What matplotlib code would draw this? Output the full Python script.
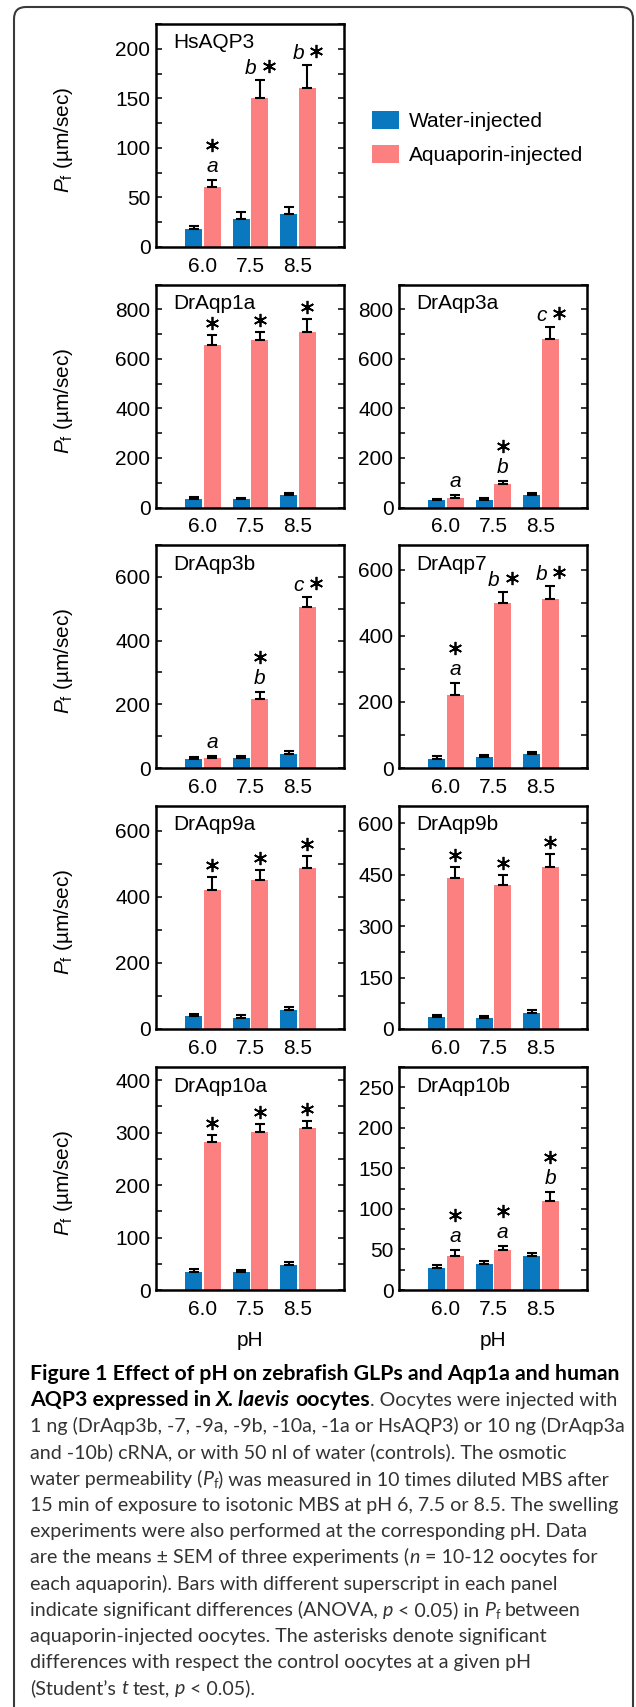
import matplotlib
matplotlib.use('Agg')
import matplotlib.pyplot as plt
import numpy as np
from matplotlib.patches import Patch, FancyBboxPatch
from matplotlib.ticker import MultipleLocator
from matplotlib.transforms import offset_copy, IdentityTransform

# ---- data (Pf in um/sec, mean and SEM) ----
PH = ['6.0', '7.5', '8.5']

hsaqp3_water = [18, 28.5, 33.5]
hsaqp3_water_sem = [3.5, 7, 7]
hsaqp3_aqp = [60.5, 150.5, 160.5]
hsaqp3_aqp_sem = [7, 18.5, 23]
hsaqp3_letters = ['a', 'b', 'b']
hsaqp3_stars = [1, 1, 1]

draqp1a_water = [36, 35, 52]
draqp1a_water_sem = [7, 4, 6]
draqp1a_aqp = [656, 676, 710]
draqp1a_aqp_sem = [40, 34, 50]
draqp1a_letters = ['', '', '']
draqp1a_stars = [1, 1, 1]

draqp3a_water = [30, 32, 50]
draqp3a_water_sem = [6, 8, 10]
draqp3a_aqp = [40, 93, 679]
draqp3a_aqp_sem = [12, 13, 48]
draqp3a_letters = ['a', 'b', 'c']
draqp3a_stars = [0, 1, 1]

draqp3b_water = [28, 31, 44]
draqp3b_water_sem = [8, 7, 8]
draqp3b_aqp = [31, 217, 506]
draqp3b_aqp_sem = [8, 21, 32]
draqp3b_letters = ['a', 'b', 'c']
draqp3b_stars = [0, 1, 1]

draqp7_water = [27, 33, 41]
draqp7_water_sem = [8, 5, 6]
draqp7_aqp = [220, 500, 513]
draqp7_aqp_sem = [38, 33, 37]
draqp7_letters = ['a', 'b', 'b']
draqp7_stars = [1, 1, 1]

draqp9a_water = [39, 34, 57]
draqp9a_water_sem = [7, 7, 9]
draqp9a_aqp = [421, 451, 487]
draqp9a_aqp_sem = [39, 31, 37]
draqp9a_letters = ['', '', '']
draqp9a_stars = [1, 1, 1]

draqp9b_water = [34, 32, 48]
draqp9b_water_sem = [7, 6, 8]
draqp9b_aqp = [439, 420, 471]
draqp9b_aqp_sem = [32, 28, 39]
draqp9b_letters = ['', '', '']
draqp9b_stars = [1, 1, 1]

draqp10a_water = [35, 34, 47]
draqp10a_water_sem = [5, 5, 6]
draqp10a_aqp = [283, 301, 308]
draqp10a_aqp_sem = [13, 16, 15]
draqp10a_letters = ['', '', '']
draqp10a_stars = [1, 1, 1]

draqp10b_water = [27, 32, 42]
draqp10b_water_sem = [3.5, 4, 4]
draqp10b_aqp = [42, 49, 110]
draqp10b_aqp_sem = [7, 5.5, 10.5]
draqp10b_letters = ['a', 'a', 'b']
draqp10b_stars = [1, 1, 1]

# ---- style ----
W, H = 636, 1707
FONT = 'Liberation Sans'
CAP_FONT = 'Lato'
BLUE = '#0a78be'
PINK = '#fd8080'
FS = 15

plt.rcParams['font.family'] = FONT
plt.rcParams['mathtext.fontset'] = 'custom'
plt.rcParams['mathtext.rm'] = FONT
plt.rcParams['mathtext.it'] = FONT + ':italic'

fig = plt.figure(figsize=(W / 100, H / 100), dpi=100)
renderer = fig.canvas.get_renderer()

COLS = [156, 399]
ROWS = [24, 284.5, 545, 806, 1067]
AX_W, AX_H = 188, 223


def px_axes(left, top):
    return fig.add_axes([left / W, 1 - (top + AX_H) / H, AX_W / W, AX_H / H])


def draw_panel(ax, name, wm, ws, am, asem, letters, stars, ytop, major, minor, ylabel):
    x = np.arange(len(PH))
    off, bw = 0.197, 0.355
    ax.bar(x - off, wm, bw, color=BLUE, zorder=2)
    ax.bar(x + off, am, bw, color=PINK, zorder=2)
    for xs, m, s in ((x - off, wm, ws), (x + off, am, asem)):
        ax.errorbar(xs, m, yerr=[np.zeros(len(m)), s], fmt='none', ecolor='k',
                    elinewidth=1.5, capsize=3.8, capthick=1.5, zorder=3)
    ax.set_xlim(-0.99, 2.97)
    ax.set_ylim(0, ytop)
    ax.set_xticks(x)
    ax.set_xticklabels(PH)
    ax.yaxis.set_major_locator(MultipleLocator(major))
    ax.yaxis.set_minor_locator(MultipleLocator(minor))
    ax.tick_params(axis='x', length=0, pad=7, labelsize=FS)
    ax.tick_params(axis='y', which='both', direction='in', right=True,
                   length=4.5, width=1.1, labelsize=FS, pad=4)
    for sp in ax.spines.values():
        sp.set_linewidth(1.8)
    ax.text(0.09, 1 - 19 / AX_H, name, transform=ax.transAxes, fontsize=FS,
            va='center', ha='left')
    if ylabel:
        ax.set_ylabel(r'$P_\mathrm{f}$ (µm/sec)', fontsize=FS)
        ax.yaxis.set_label_coords(-0.431, 0.48)

    def star(xp, yp, dx, dy):
        tr = offset_copy(ax.transData, fig=fig, x=dx, y=dy, units='dots')
        ax.plot([xp], [yp], marker=(6, 2, 0), ms=9.5, mew=1.25, color='k',
                transform=tr, clip_on=False, zorder=4)

    def letter(xp, yp, dx, dy, s):
        tr = offset_copy(ax.transData, fig=fig, x=dx, y=dy, units='dots')
        ax.text(xp, yp, s, transform=tr, fontsize=FS, style='italic',
                ha='center', va='baseline')

    for i in range(len(PH)):
        top = am[i] + asem[i]
        xp = x[i] + off
        lt, st = letters[i], stars[i]
        if lt and st and top / ytop > 0.6:
            letter(xp, top, -9, 6, lt)
            star(xp, top, 9, 14)
        elif lt:
            letter(xp, top, 0, 8, lt)
            if st:
                star(xp, top, 0, 35)
        elif st:
            star(xp, top, 0, 12)


panels = [
    (0, 0, 'HsAQP3', hsaqp3_water, hsaqp3_water_sem, hsaqp3_aqp, hsaqp3_aqp_sem,
     hsaqp3_letters, hsaqp3_stars, 225, 50, 25),
    (1, 0, 'DrAqp1a', draqp1a_water, draqp1a_water_sem, draqp1a_aqp, draqp1a_aqp_sem,
     draqp1a_letters, draqp1a_stars, 900, 200, 100),
    (1, 1, 'DrAqp3a', draqp3a_water, draqp3a_water_sem, draqp3a_aqp, draqp3a_aqp_sem,
     draqp3a_letters, draqp3a_stars, 900, 200, 100),
    (2, 0, 'DrAqp3b', draqp3b_water, draqp3b_water_sem, draqp3b_aqp, draqp3b_aqp_sem,
     draqp3b_letters, draqp3b_stars, 700, 200, 100),
    (2, 1, 'DrAqp7', draqp7_water, draqp7_water_sem, draqp7_aqp, draqp7_aqp_sem,
     draqp7_letters, draqp7_stars, 675, 200, 100),
    (3, 0, 'DrAqp9a', draqp9a_water, draqp9a_water_sem, draqp9a_aqp, draqp9a_aqp_sem,
     draqp9a_letters, draqp9a_stars, 675, 200, 100),
    (3, 1, 'DrAqp9b', draqp9b_water, draqp9b_water_sem, draqp9b_aqp, draqp9b_aqp_sem,
     draqp9b_letters, draqp9b_stars, 650, 150, 75),
    (4, 0, 'DrAqp10a', draqp10a_water, draqp10a_water_sem, draqp10a_aqp, draqp10a_aqp_sem,
     draqp10a_letters, draqp10a_stars, 425, 100, 50),
    (4, 1, 'DrAqp10b', draqp10b_water, draqp10b_water_sem, draqp10b_aqp, draqp10b_aqp_sem,
     draqp10b_letters, draqp10b_stars, 275, 50, 25),
]

for row, col, name, wm, ws, am, asem, lts, sts, ytop, major, minor in panels:
    ax = px_axes(COLS[col], ROWS[row])
    draw_panel(ax, name, wm, ws, am, asem, lts, sts, ytop, major, minor, col == 0)
    if row == 4:
        ax.set_xlabel('pH', fontsize=FS, labelpad=9)

# legend next to the top panel
handles = [Patch(facecolor=BLUE), Patch(facecolor=PINK)]
fig.legend(handles, ['Water-injected', 'Aquaporin-injected'], loc='upper left',
           bbox_to_anchor=(372 / W, 1 - 111 / H), frameon=False, fontsize=FS,
           handlelength=1.3, handleheight=0.96, handletextpad=0.45,
           labelspacing=0.65, borderpad=0, borderaxespad=0)

# outer rounded frame (bottom runs off the page)
fig.patches.append(FancyBboxPatch((14, -30), 619, 1730,
                                  boxstyle='round,pad=0,rounding_size=12',
                                  transform=IdentityTransform(), fill=False,
                                  ec='#3a3a3a', lw=1.5))

# ---- caption ----
R, B, I, BI, SUB = 'r', 'b', 'i', 'bi', 'sub'
caption = [
    [('Figure 1 Effect of pH on zebrafish GLPs and Aqp1a and human', B)],
    [('AQP3 expressed in ', B), ('X. laevis', BI), (' oocytes', B),
     ('. Oocytes were injected with', R)],
    [('1 ng (DrAqp3b, -7, -9a, -9b, -10a, -1a or HsAQP3) or 10 ng (DrAqp3a', R)],
    [('and -10b) cRNA, or with 50 nl of water (controls). The osmotic', R)],
    [('water permeability (', R), ('P', I), ('f', SUB),
     (') was measured in 10 times diluted MBS after', R)],
    [('15 min of exposure to isotonic MBS at pH 6, 7.5 or 8.5. The swelling', R)],
    [('experiments were also performed at the corresponding pH. Data', R)],
    [('are the means ± SEM of three experiments (', R), ('n', I),
     (' = 10-12 oocytes for', R)],
    [('each aquaporin). Bars with different superscript in each panel', R)],
    [('indicate significant differences (ANOVA, ', R), ('p', I), (' < 0.05) in ', R),
     ('P', I), ('f', SUB), (' between', R)],
    [('aquaporin-injected oocytes. The asterisks denote significant', R)],
    [('differences with respect the control oocytes at a given pH', R)],
    [('(Student\u2019s ', R), ('t', I), (' test, ', R), ('p', I), (' < 0.05).', R)],
]

STYLE = {R: ('normal', 'normal'), B: ('bold', 'normal'), I: ('normal', 'italic'),
         BI: ('bold', 'italic'), SUB: ('normal', 'normal')}


def text_width(s, size, kind):
    wt, st = STYLE[kind]
    t = fig.text(0, 0, s, fontsize=size, family=CAP_FONT, fontweight=wt, fontstyle=st)
    w = t.get_window_extent(renderer).width
    t.remove()
    return w


reg_size = 10 * 589 / text_width(caption[5][0][0], 10, R)
bold_size = 10 * 591 / text_width(caption[0][0][0], 10, B)

for k, segs in enumerate(caption):
    x = 30
    y = 1380 + 26.2 * k
    for s, kind in segs:
        size = bold_size if kind in (B, BI) else reg_size
        dy = 0
        if kind == SUB:
            size *= 0.65
            dy = 3.5
        sp = text_width('a a', size, kind) - text_width('aa', size, kind)
        core = s.strip(' ')
        x += (len(s) - len(s.lstrip(' '))) * sp
        wt, st = STYLE[kind]
        t = fig.text(x / W, 1 - (y + dy) / H, core, fontsize=size, family=CAP_FONT,
                     fontweight=wt, fontstyle=st, va='baseline', ha='left',
                     color='k' if kind in (B, BI) else '#333333')
        x += t.get_window_extent(renderer).width
        x += (len(s) - len(s.rstrip(' '))) * sp

fig.savefig('out.png', dpi=100)
